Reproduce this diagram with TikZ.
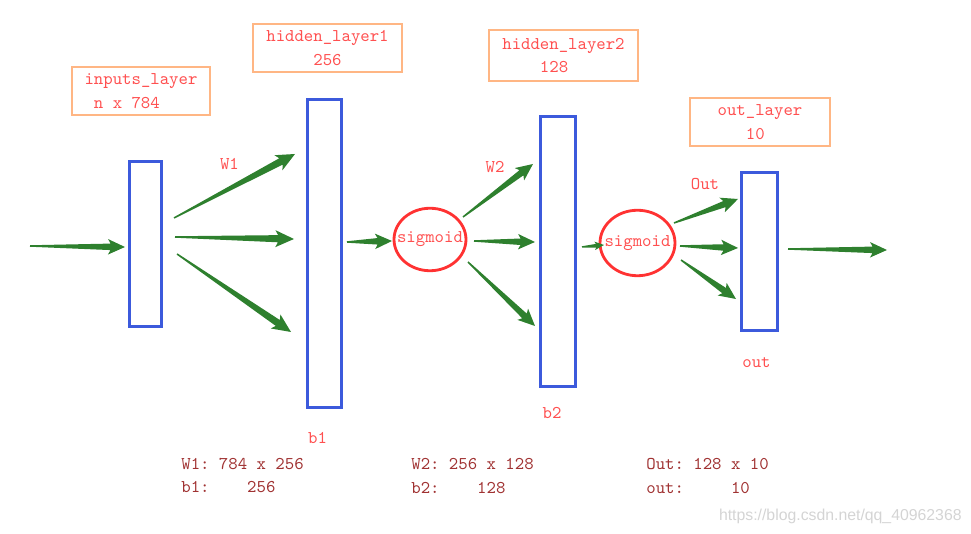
\documentclass[tikz,border=0pt]{standalone}
\usepackage{fontspec}
\newfontfamily\markfont{Liberation Sans}
\usetikzlibrary{calc,shapes.geometric}
\definecolor{layerblue}{RGB}{60,90,220}
\definecolor{boxorange}{RGB}{255,182,132}
\definecolor{txtred}{RGB}{255,80,80}
\definecolor{sigred}{RGB}{255,50,50}
\definecolor{dimred}{RGB}{160,50,50}
\definecolor{arrowgreen}{RGB}{46,128,46}
\definecolor{markgray}{RGB}{212,212,212}
\tikzset{
  layer/.style={draw=layerblue,line width=1.7pt,inner sep=0pt},
  sig/.style={ellipse,draw=sigred,line width=1.6pt,inner sep=0pt},
  titlebox/.style={draw=boxorange,line width=0.9pt,align=left,text=txtred,inner sep=0pt,
    font=\ttfamily\frenchspacing\fontsize{10.2}{13.6}\selectfont},
  lbl/.style={text=txtred,inner sep=0pt,font=\ttfamily\fontsize{10.2}{12}\selectfont},
  dims/.style={text=dimred,align=left,anchor=west,inner sep=0pt,
    font=\ttfamily\frenchspacing\fontsize{10.2}{13.6}\selectfont},
  watermark/.style={text=markgray,anchor=east,inner sep=0pt,font=\markfont\fontsize{9}{11}\selectfont},
}
% tapered arrow from #2 to #3, #1 scales the head
\newcommand{\fatarrow}[3][1]{%
  \pgfmathsetmacro\fahead{#1*0.29}%
  \pgfmathsetmacro\fawing{#1*0.34}%
  \pgfmathsetmacro\fahalf{#1*0.155}%
  \pgfmathsetmacro\fashaft{#1*0.065}%
  \path ($(#3)!\fahead cm!(#2)$) coordinate (fa-base)
        ($(#3)!\fawing cm!(#2)$) coordinate (fa-wing);
  \fill[arrowgreen] ($(#2)!0.015cm!-90:(#3)$) -- ($(#2)!0.015cm!90:(#3)$)
    -- ($(fa-base)!\fashaft cm!90:(#3)$)
    -- ($(fa-wing)!\fahalf cm!90:(#3)$) -- (#3)
    -- ($(fa-wing)!\fahalf cm!-90:(#3)$)
    -- ($(fa-base)!\fashaft cm!-90:(#3)$) -- cycle;}
\begin{document}
\begin{tikzpicture}
    \def\x{0.02}
    \def\y{-0.02}
    \useasboundingbox (0,0) rectangle (971*\x, 534*\y);
    % layers and activations
    \node[layer,minimum width=0.65cm,minimum height=3.30cm] (L0_0) at (145.5*\x, 244*\y) {};
    \node[layer,minimum width=0.68cm,minimum height=6.16cm] (L0_1) at (324.5*\x, 253.5*\y) {};
    \node[sig,minimum width=1.44cm,minimum height=1.25cm,label={[lbl]center:sigmoid}] (S0_2) at (430*\x, 239.5*\y) {};
    \node[layer,minimum width=0.70cm,minimum height=5.40cm] (L0_3) at (558*\x, 251.5*\y) {};
    \node[sig,minimum width=1.50cm,minimum height=1.31cm,label={[lbl]center:sigmoid}] (S0_4) at (637.5*\x, 243*\y) {};
    \node[layer,minimum width=0.72cm,minimum height=3.16cm] (L0_5) at (759.5*\x, 251.5*\y) {};
    % titles
    \node[titlebox,minimum width=2.76cm,minimum height=0.96cm] (T0_0) at (141*\x, 91*\y) {inputs\_layer\\~n x 784};
    \node[titlebox,minimum width=2.98cm,minimum height=0.96cm] (T0_1) at (327.5*\x, 48*\y) {hidden\_layer1\\~~~~~256};
    \node[titlebox,minimum width=2.98cm,minimum height=1.02cm] (T0_3) at (563.5*\x, 55.5*\y) {hidden\_layer2\\~~~~128};
    \node[titlebox,minimum width=2.80cm,minimum height=0.96cm] (T0_5) at (760*\x, 122*\y) {out\_layer\\~~~10};
    % labels
    \node[lbl] (W0_1) at (229.5*\x, 164.5*\y) {W1};
    \node[lbl] (W0_3) at (495*\x, 167.5*\y) {W2};
    \node[lbl] (W0_5) at (705*\x, 184.5*\y) {Out};
    \node[lbl] (B0_1) at (317.5*\x, 437.5*\y) {b1};
    \node[lbl] (B0_3) at (552*\x, 413*\y) {b2};
    \node[lbl] (B0_5) at (756.5*\x, 362.5*\y) {out};
    % arrow ends
    \coordinate (a1) at (30*\x, 246*\y);   \coordinate (b1) at (125*\x, 247*\y);
    \coordinate (a2) at (174*\x, 218*\y);  \coordinate (b2) at (295*\x, 154*\y);
    \coordinate (a3) at (175*\x, 237*\y);  \coordinate (b3) at (294*\x, 239*\y);
    \coordinate (a4) at (177*\x, 254*\y);  \coordinate (b4) at (291*\x, 332*\y);
    \coordinate (a5) at (347*\x, 242*\y);  \coordinate (b5) at (392*\x, 241*\y);
    \coordinate (a6) at (463*\x, 217*\y);  \coordinate (b6) at (533*\x, 164*\y);
    \coordinate (a7) at (474*\x, 241*\y);  \coordinate (b7) at (535*\x, 242*\y);
    \coordinate (a8) at (468*\x, 262*\y);  \coordinate (b8) at (535*\x, 326*\y);
    \coordinate (a9) at (582*\x, 247*\y);  \coordinate (b9) at (604*\x, 245*\y);
    \coordinate (a10) at (674*\x, 223*\y); \coordinate (b10) at (738*\x, 199*\y);
    \coordinate (a11) at (680*\x, 246*\y); \coordinate (b11) at (738*\x, 248*\y);
    \coordinate (a12) at (681*\x, 260*\y); \coordinate (b12) at (736*\x, 299*\y);
    \coordinate (a13) at (788*\x, 249*\y); \coordinate (b13) at (887*\x, 250*\y);
    \foreach \i/\s in {1/1,2/1.1,3/1.1,4/1.1,5/1,6/1,7/1,8/1,9/0.55,10/1,11/1,12/1,13/1}
      {\fatarrow[\s]{a\i}{b\i}}
    % sizes
    \node[dims] (D1_1) at (181*\x, 475.5*\y) {W1: 784 x 256\\b1:~~~~256};
    \node[dims] (D1_3) at (411*\x, 476*\y) {W2: 256 x 128\\b2:~~~~128};
    \node[dims] (D1_5) at (646*\x, 476*\y) {Out: 128 x 10\\out:~~~~~10};
    \node[watermark] (M0_0) at (962*\x, 516*\y) {https://blog.csdn.net/qq\_40962368};
\end{tikzpicture}
\end{document}
